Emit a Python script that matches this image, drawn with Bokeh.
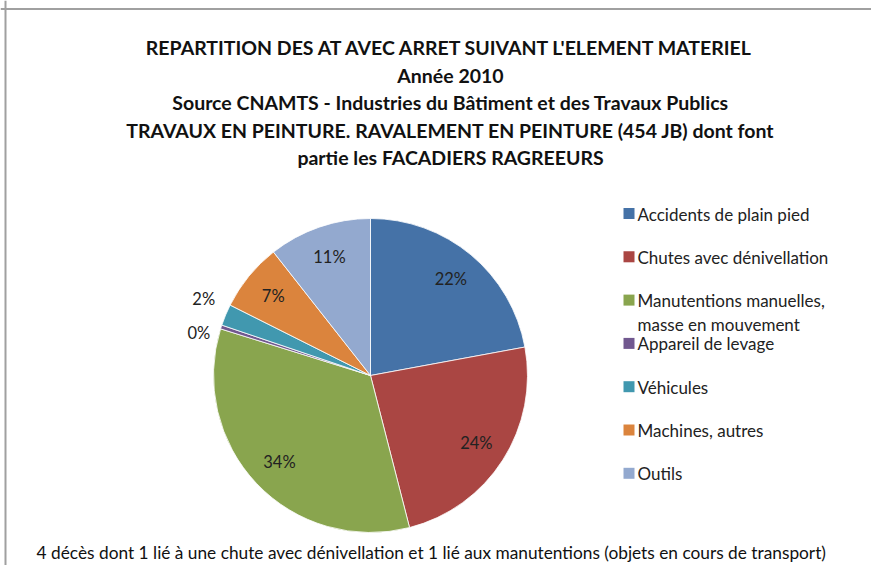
import math
import textwrap
from bokeh.plotting import figure
from bokeh.models import Range1d, Span, ColumnDataSource
from bokeh.core.properties import value
from bokeh.embed import file_html
from bokeh.resources import INLINE

# ---- data ----
categories = [
    "Accidents de plain pied",
    "Chutes avec dénivellation",
    "Manutentions manuelles, masse en mouvement",
    "Appareil de levage",
    "Véhicules",
    "Machines, autres",
    "Outils",
]
shares = [22.1, 23.9, 33.8, 0.4, 2.2, 7.0, 10.6]
colors = ["#4572A7", "#AA4643", "#89A54E", "#71588F", "#4198AF", "#DB843D", "#93A9CF"]
title_lines = [
    "REPARTITION DES AT AVEC ARRET SUIVANT L'ELEMENT MATERIEL",
    "Année 2010",
    "Source CNAMTS - Industries du Bâtiment et des Travaux Publics",
    "TRAVAUX EN PEINTURE. RAVALEMENT EN PEINTURE (454 JB) dont font",
    "partie les FACADIERS RAGREEURS",
]
footnote = "4 décès dont 1 lié à une chute avec dénivellation et 1 lié aux manutentions  (objets en cours de transport)"

# ---- layout ----
W, H = 871, 565
FONT = "Lato"
cx, cy, R = 370, 190, 157

p = figure(width=W, height=H, output_backend="svg", toolbar_location=None,
           x_range=Range1d(0, W), y_range=Range1d(0, H),
           x_axis_type=None, y_axis_type=None, min_border=0,
           background_fill_color="white", border_fill_color="white")
p.grid.visible = False
p.outline_line_color = None

# border (top & left visible in reference)
p.add_layout(Span(location=H - 8.5, dimension="width", line_color="#A0A0A0", line_width=2))
p.add_layout(Span(location=5, dimension="height", line_color="#A0A0A0", line_width=2))

# ---- pie ----
total = sum(shares)
starts, ends, mids = [], [], []
acc = 0.0
for s in shares:
    a0 = math.pi / 2 - 2 * math.pi * acc / total
    acc += s
    a1 = math.pi / 2 - 2 * math.pi * acc / total
    starts.append(a0)
    ends.append(a1)
    mids.append((a0 + a1) / 2)

src = ColumnDataSource(dict(start=starts, end=ends, color=colors))
p.wedge(x=cx, y=cy, radius=R, start_angle="start", end_angle="end",
        direction="clock", fill_color="color", line_color="white",
        line_width=0.8, source=src)

# labels
in_x, in_y, in_t = [], [], []
out = []
for s, m in zip(shares, mids):
    lab = f"{round(s / total * 100)}%"
    if s / total >= 0.04:
        in_x.append(cx + 0.8 * R * math.cos(m))
        in_y.append(cy + 0.8 * R * math.sin(m))
        in_t.append(lab)
    else:
        out.append([cx + 1.1 * R * math.cos(m), cy + 1.1 * R * math.sin(m), lab])

# spread overlapping outside labels
out.sort(key=lambda o: o[1])
gap = 34
for i in range(1, len(out)):
    if out[i][1] - out[i - 1][1] < gap:
        mid = (out[i][1] + out[i - 1][1]) / 2
        out[i - 1][1] = mid - gap / 2
        out[i][1] = mid + gap / 2

p.text(x=in_x, y=in_y, text=in_t, text_font=value(FONT), text_font_size="16.5px",
       text_color="#222222", text_align="center", text_baseline="middle")
p.text(x=[o[0] + 4 for o in out], y=[o[1] for o in out], text=[o[2] for o in out],
       text_font=value(FONT), text_font_size="16.5px", text_color="#222222",
       text_align="right", text_baseline="middle")

# ---- title ----
ty0, tstep = 518, 27.5
p.text(x=[450] * len(title_lines), y=[ty0 - i * tstep for i in range(len(title_lines))],
       text=title_lines, text_font=value(FONT), text_font_size="19.5px",
       text_font_style="bold", text_color="#111111",
       text_align="center", text_baseline="middle")

# ---- legend ----
ly0, lstep = 352, 43.3
leg_y = [ly0 - i * lstep for i in range(len(categories))]
p.rect(x=[628.5] * len(categories), y=leg_y, width=11, height=11,
       fill_color=colors, line_color=None)
wrapped = ["\n".join(textwrap.wrap(c, 26)) for c in categories]
p.text(x=[637] * len(categories), y=[y + 10 for y in leg_y], text=wrapped,
       text_font=value(FONT), text_font_size="17px", text_color="#222222",
       text_align="left", text_baseline="top", text_line_height=1.16)

# ---- footnote ----
p.text(x=[433], y=[13], text=[footnote], text_font=value(FONT),
       text_font_size="17.3px", text_color="#111111",
       text_align="center", text_baseline="middle")

open("out.html", "w").write(file_html(p, INLINE))
